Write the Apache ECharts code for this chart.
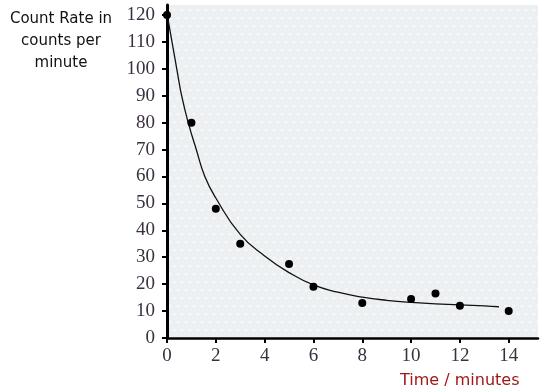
<!DOCTYPE html>
<html>
<head>
<meta charset="utf-8">
<script src="https://cdn.jsdelivr.net/npm/echarts@6/dist/echarts.min.js"></script>
<style>
  html, body { margin: 0; padding: 0; background: #fff; }
  #chart { width: 540px; height: 392px; }
</style>
</head>
<body>
<div id="chart"></div>
<script>
// measured points
const pointTimes = [0, 1, 2, 3, 5, 6, 8, 10, 11, 12, 14];
const pointRates = [120, 80, 48, 35, 27.5, 19, 13, 14.5, 16.5, 12, 10];

// best fit curve
const curveTimes = [0.05, 0.4, 0.6, 0.87, 1.2, 1.55, 2, 3, 4, 5, 6, 7, 8, 9, 10, 11, 12, 13, 13.6];
const curveRates = [118, 100, 90, 80, 70, 60, 52, 38.5, 30.5, 24.3, 19.7, 17, 15.2, 14, 13.2, 12.7, 12.3, 11.9, 11.6];

const xTicks = [0, 2, 4, 6, 8, 10, 12, 14];
const yTicks = [0, 10, 20, 30, 40, 50, 60, 70, 80, 90, 100, 110, 120];

const chart = echarts.init(document.getElementById('chart'));

// dotted paper-like background
function makePattern() {
  const c = document.createElement('canvas');
  c.width = 16; c.height = 16;
  const g = c.getContext('2d');
  g.fillStyle = '#edf0f2';
  g.fillRect(0, 0, 16, 16);
  g.fillStyle = 'rgba(255,255,255,0.55)';
  [[2, 2], [10, 2], [6, 10], [14, 10]].forEach(p => {
    g.beginPath(); g.arc(p[0], p[1], 1.6, 0, Math.PI * 2); g.fill();
  });
  return c;
}

const labelFont = {
  fontFamily: 'Liberation Serif',
  fontSize: 19,
  color: '#3b3040'
};

chart.setOption({
  animation: false,
  grid: {
    left: 167, right: 2, top: 5, bottom: 54,
    show: true,
    borderWidth: 0,
    backgroundColor: { image: makePattern(), repeat: 'repeat' }
  },
  xAxis: {
    type: 'value',
    min: 0,
    max: 15.2,
    axisLine: { onZero: false, lineStyle: { color: '#000', width: 2.5 } },
    axisTick: { show: true, length: 5, lineStyle: { color: '#000', width: 2 }, customValues: xTicks },
    axisLabel: Object.assign({ margin: 9, customValues: xTicks }, labelFont),
    splitLine: { show: false }
  },
  yAxis: {
    type: 'value',
    min: 0,
    max: 123.7,
    axisLine: { show: true, onZero: false, lineStyle: { color: '#000', width: 3 } },
    axisTick: { show: true, length: 5, lineStyle: { color: '#000', width: 2 }, customValues: yTicks },
    axisLabel: Object.assign({ margin: 12, customValues: yTicks }, labelFont),
    splitLine: { show: false }
  },
  graphic: [
    {
      type: 'text',
      x: 61, y: 8,
      style: {
        text: 'Count Rate in\ncounts per\nminute',
        textAlign: 'center',
        fontFamily: 'Comic Sans MS, DejaVu Sans',
        fontSize: 15,
        lineHeight: 22,
        fill: '#111'
      }
    },
    {
      type: 'text',
      x: 400, y: 373,
      style: {
        text: 'Time / minutes',
        fontFamily: 'Comic Sans MS, DejaVu Sans',
        fontSize: 16,
        fill: '#a01818'
      }
    }
  ],
  series: [
    {
      type: 'line',
      data: curveTimes.map((t, i) => [t, curveRates[i]]),
      smooth: true,
      showSymbol: false,
      lineStyle: { color: '#111', width: 1.3 },
      z: 2
    },
    {
      type: 'scatter',
      data: pointTimes.map((t, i) => [t, pointRates[i]]),
      symbol: 'circle',
      symbolSize: 8,
      itemStyle: { color: '#000', opacity: 1 },
      z: 3
    }
  ]
});
</script>
</body>
</html>
